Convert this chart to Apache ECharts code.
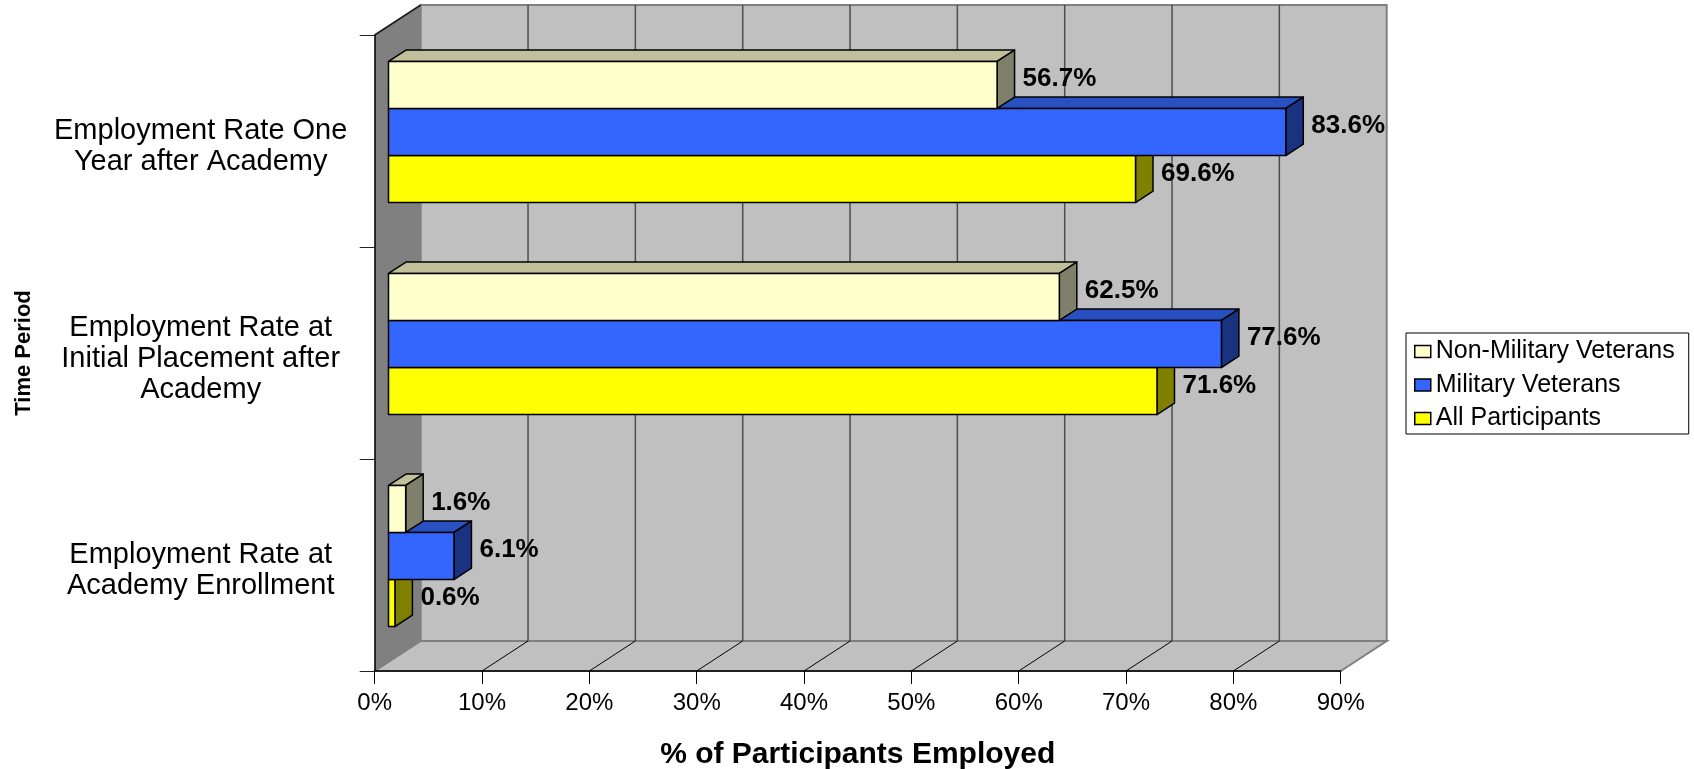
<!DOCTYPE html>
<html>
<head>
<meta charset="utf-8">
<title>Employment Rates</title>
<script src="https://cdn.jsdelivr.net/npm/echarts@6/dist/echarts.min.js"></script>
<style>
  html, body { margin: 0; padding: 0; background: #ffffff; }
  #chart { width: 1694px; height: 769px; }
</style>
</head>
<body>
<div id="chart"></div>
<script>
// ---- data ----
const categories = [
  'Employment Rate at\nAcademy Enrollment',
  'Employment Rate at\nInitial Placement after\nAcademy',
  'Employment Rate One\nYear after Academy'
];
const seriesNames = ['Non-Military Veterans', 'Military Veterans', 'All Participants'];
const nonMilitaryVeterans = [1.6, 62.5, 56.7];
const militaryVeterans = [6.1, 77.6, 83.6];
const allParticipants = [0.6, 71.6, 69.6];
const xTicks = [0, 10, 20, 30, 40, 50, 60, 70, 80, 90];

// ---- 3D look ----
const FONT = '"Liberation Sans", Arial, Helvetica, sans-serif';
const DEPTH = [46, -30];          // wall depth in pixels (towards upper right)
const BAR_FRONT = 0.30;           // bar front face, as a fraction of wall depth
const BAR_BACK = 0.68;            // bar back face
const BAR_RATIO = 0.222;          // bar thickness, share of category band

const palette = [
  { front: '#FFFFCC', top: '#C0C09A', side: '#80806A' },
  { front: '#3366FF', top: '#2850C0', side: '#1A3380' },
  { front: '#FFFF00', top: '#BFBF00', side: '#808000' }
];

function renderFrame(params, api) {
  const cs = params.coordSys;
  const L = cs.x, R = cs.x + cs.width, T = cs.y, B = cs.y + cs.height;
  const dx = DEPTH[0], dy = DEPTH[1];
  const children = [];
  // back wall
  children.push({
    type: 'rect',
    shape: { x: L + dx, y: T + dy, width: cs.width, height: cs.height },
    style: { fill: '#C0C0C0', stroke: '#808080', lineWidth: 2 }
  });
  // floor
  children.push({
    type: 'polygon',
    shape: { points: [[L, B], [L + dx, B + dy], [R + dx, B + dy], [R, B]] },
    style: { fill: '#C0C0C0', stroke: '#808080', lineWidth: 2 }
  });
  // side wall
  children.push({
    type: 'polygon',
    shape: { points: [[L, T], [L + dx, T + dy], [L + dx, B + dy], [L, B]] },
    style: { fill: '#808080' }
  });
  // gridlines on the back wall and across the floor
  for (let i = 1; i < xTicks.length - 1; i++) {
    const x = api.coord([xTicks[i], 0])[0];
    children.push({
      type: 'line',
      shape: { x1: x + dx, y1: T + dy, x2: x + dx, y2: B + dy },
      style: { stroke: '#4d4d4d', lineWidth: 1.5 }
    });
    children.push({
      type: 'line',
      shape: { x1: x, y1: B, x2: x + dx, y2: B + dy },
      style: { stroke: '#000000', lineWidth: 1 }
    });
  }
  // top edge of the side wall
  children.push({
    type: 'line',
    shape: { x1: L, y1: T, x2: L + dx, y2: T + dy },
    style: { stroke: '#1a1a1a', lineWidth: 1.5 }
  });
  return { type: 'group', children: children };
}

function makeBarRenderer(slot, colors) {
  return function (params, api) {
    const value = api.value(0);
    const ci = api.value(1);
    const p0 = api.coord([0, ci]);
    const p1 = api.coord([value, ci]);
    const band = api.size([0, 1])[1];
    const h = band * BAR_RATIO;
    const fx = DEPTH[0] * BAR_FRONT, fy = DEPTH[1] * BAR_FRONT;
    const bx = DEPTH[0] * (BAR_BACK - BAR_FRONT), by = DEPTH[1] * (BAR_BACK - BAR_FRONT);
    const cy = p0[1] + slot * h + fy;
    const x0 = p0[0] + fx, x1 = p1[0] + fx;
    const yt = cy - h / 2, yb = cy + h / 2;
    const edge = { stroke: '#000000', lineWidth: 1.5, lineJoin: 'round' };
    return {
      type: 'group',
      children: [
        {
          type: 'polygon',
          shape: { points: [[x0, yt], [x0 + bx, yt + by], [x1 + bx, yt + by], [x1, yt]] },
          style: Object.assign({ fill: colors.top }, edge)
        },
        {
          type: 'polygon',
          shape: { points: [[x1, yt], [x1 + bx, yt + by], [x1 + bx, yb + by], [x1, yb]] },
          style: Object.assign({ fill: colors.side }, edge)
        },
        {
          type: 'rect',
          shape: { x: x0, y: yt, width: x1 - x0, height: h },
          style: Object.assign({ fill: colors.front }, edge)
        },
        {
          type: 'text',
          x: x1 + bx + 8,
          y: cy + by / 2,
          style: {
            text: value.toFixed(1) + '%',
            font: 'bold 26px ' + FONT,
            fill: '#000000',
            align: 'left',
            verticalAlign: 'middle'
          }
        }
      ]
    };
  };
}

const seriesValues = [nonMilitaryVeterans, militaryVeterans, allParticipants];
const slots = [-1, 0, 1];

const barSeries = seriesNames.map(function (name, i) {
  return {
    name: name,
    type: 'custom',
    z: 5 - i,
    clip: false,
    itemStyle: { color: palette[i].front, borderColor: '#000', borderWidth: 1.5 },
    encode: { x: 0, y: 1 },
    data: seriesValues[i].map(function (v, ci) { return [v, ci]; }),
    renderItem: makeBarRenderer(slots[i], palette[i])
  };
});

const chart = echarts.init(document.getElementById('chart'), null, { renderer: 'canvas' });
chart.setOption({
  animation: false,
  backgroundColor: '#ffffff',
  textStyle: { fontFamily: FONT },
  grid: {
    left: 374.7, right: 353.3, top: 35, bottom: 98,
    containLabel: false, outerBoundsMode: 'none'
  },
  legend: {
    orient: 'vertical',
    left: 1406,
    top: 333,
    selectedMode: false,
    icon: 'rect',
    itemWidth: 16,
    itemHeight: 12,
    itemGap: 8.5,
    padding: [6, 14, 3, 8],
    borderColor: '#000000',
    borderWidth: 1,
    backgroundColor: '#ffffff',
    textStyle: { fontFamily: FONT, fontSize: 25, color: '#000000' },
    data: seriesNames.map(function (n, i) {
      return { name: n, itemStyle: { color: palette[i].front, borderColor: '#000', borderWidth: 1.5 } };
    })
  },
  xAxis: {
    type: 'value',
    min: 0,
    max: 90,
    interval: 10,
    z: 10,
    name: '% of Participants Employed',
    nameLocation: 'middle',
    nameGap: 69,
    nameTextStyle: { fontFamily: FONT, fontSize: 30, fontWeight: 'bold', color: '#000000' },
    axisLine: { show: true, lineStyle: { color: '#000000', width: 1.5 } },
    axisTick: { show: true, length: 13, lineStyle: { color: '#000000', width: 1 } },
    axisLabel: { margin: 20, fontFamily: FONT, fontSize: 24, color: '#000000', formatter: '{value}%' },
    splitLine: { show: false }
  },
  yAxis: {
    type: 'category',
    data: categories,
    z: 10,
    name: 'Time Period',
    nameLocation: 'middle',
    nameRotate: 90,
    nameGap: 340,
    nameTextStyle: { fontFamily: FONT, fontSize: 22, fontWeight: 'bold', color: '#000000' },
    axisLine: { show: true, lineStyle: { color: '#000000', width: 1.5 } },
    axisTick: { show: true, length: 15, lineStyle: { color: '#222222', width: 1 } },
    axisLabel: {
      margin: 174, align: 'center',
      fontFamily: FONT, fontSize: 29, lineHeight: 31, color: '#000000',
      // a short spacer line nudges each label block slightly downward
      formatter: function (v) { return '{gap|}\n' + v; },
      rich: { gap: { fontSize: 1, lineHeight: 11, height: 11 } }
    },
    splitLine: { show: false }
  },
  series: [
    {
      name: 'frame',
      type: 'custom',
      z: 1,
      silent: true,
      clip: false,
      encode: { x: 0, y: 1 },
      data: [[0, 0]],
      renderItem: renderFrame
    }
  ].concat(barSeries)
});
</script>
</body>
</html>
